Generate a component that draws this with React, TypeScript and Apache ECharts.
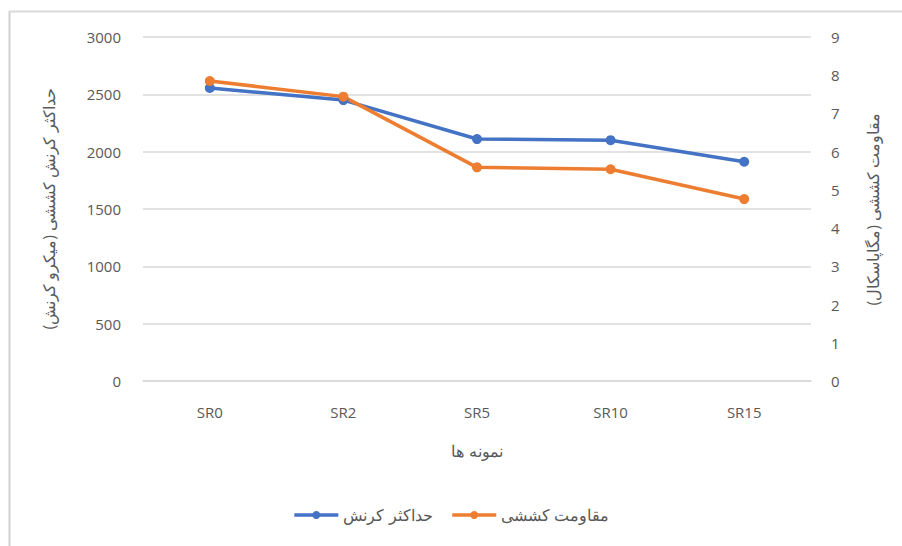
import React, { useEffect, useRef } from "react";
import * as echarts from "echarts";

const categories = ["SR0", "SR2", "SR5", "SR10", "SR15"];
const strainValues = [2555, 2450, 2110, 2100, 1912];
const strengthValues = [7.85, 7.44, 5.59, 5.54, 4.76];
const strainName = "حداکثر کرنش";
const strengthName = "مقاومت کششی";
const leftAxisTitle = "حداکثر کرنش کششی (میکرو کرنش)";
const rightAxisTitle = "مقاومت کششی (مگاپاسکال)";
const xAxisTitle = "نمونه ها";

const BLUE = "#4472C4";
const ORANGE = "#ED7D31";
const TEXT = "#595959";
const FONT = "'Open Sans', 'Noto Sans', sans-serif";

export default function App() {
  const ref = useRef<HTMLDivElement>(null);
  useEffect(() => {
    if (!ref.current) return;
    const chart = echarts.init(ref.current, null, { renderer: "svg" });
    chart.setOption({
      animation: false,
      backgroundColor: "#ffffff",
      textStyle: { fontFamily: FONT, color: TEXT },
      graphic: [
        { type: "line", shape: { x1: 9.5, y1: 11, x2: 9.5, y2: 546 }, style: { stroke: "#d0d0d0", lineWidth: 2 } },
        { type: "line", shape: { x1: 9, y1: 11.5, x2: 902, y2: 11.5 }, style: { stroke: "#d9d9d9", lineWidth: 2 } },
      ],
      grid: { left: 143, right: 91, top: 37, bottom: 165 },
      legend: {
        bottom: 18,
        left: "center",
        itemGap: 18,
        itemWidth: 44,
        itemHeight: 10,
        lineStyle: { width: 3.5 },
        textStyle: { fontSize: 16, color: TEXT, fontFamily: FONT },
        data: [strainName, strengthName],
      },
      xAxis: {
        type: "category",
        data: categories,
        boundaryGap: true,
        axisLine: { lineStyle: { color: "#d9d9d9", width: 1.5 } },
        axisTick: { show: false },
        axisLabel: { color: TEXT, fontSize: 15, margin: 23, fontFamily: FONT },
        name: xAxisTitle,
        nameLocation: "middle",
        nameGap: 62,
        nameTextStyle: { color: TEXT, fontSize: 16, fontFamily: FONT },
      },
      yAxis: [
        {
          type: "value",
          min: 0,
          max: 3000,
          interval: 500,
          axisLine: { show: false },
          axisTick: { show: false },
          splitLine: { lineStyle: { color: "#d9d9d9", width: 1.5 } },
          axisLabel: {
            color: TEXT,
            fontSize: 15,
            margin: 22,
            fontFamily: FONT,
            formatter: (v: number) => String(v),
          },
          name: leftAxisTitle,
          nameLocation: "middle",
          nameRotate: 90,
          nameGap: 86,
          nameTextStyle: { color: TEXT, fontSize: 16, fontFamily: FONT },
        },
        {
          type: "value",
          min: 0,
          max: 9,
          interval: 1,
          position: "right",
          axisLine: { show: false },
          axisTick: { show: false },
          splitLine: { show: false },
          axisLabel: { color: TEXT, fontSize: 15, margin: 20, fontFamily: FONT },
          name: rightAxisTitle,
          nameLocation: "middle",
          nameRotate: 90,
          nameGap: 54,
          nameTextStyle: { color: TEXT, fontSize: 16, fontFamily: FONT },
        },
      ],
      series: [
        {
          name: strainName,
          type: "line",
          yAxisIndex: 0,
          data: strainValues,
          symbol: "circle",
          symbolSize: 10,
          lineStyle: { color: BLUE, width: 3.5 },
          itemStyle: { color: BLUE },
        },
        {
          name: strengthName,
          type: "line",
          yAxisIndex: 1,
          data: strengthValues,
          symbol: "circle",
          symbolSize: 10,
          lineStyle: { color: ORANGE, width: 3.5 },
          itemStyle: { color: ORANGE },
        },
      ],
    });
    return () => chart.dispose();
  }, []);
  return (
    <div
      ref={ref}
      style={{ position: "fixed", left: 0, top: 0, width: 902, height: 546 }}
    />
  );
}
